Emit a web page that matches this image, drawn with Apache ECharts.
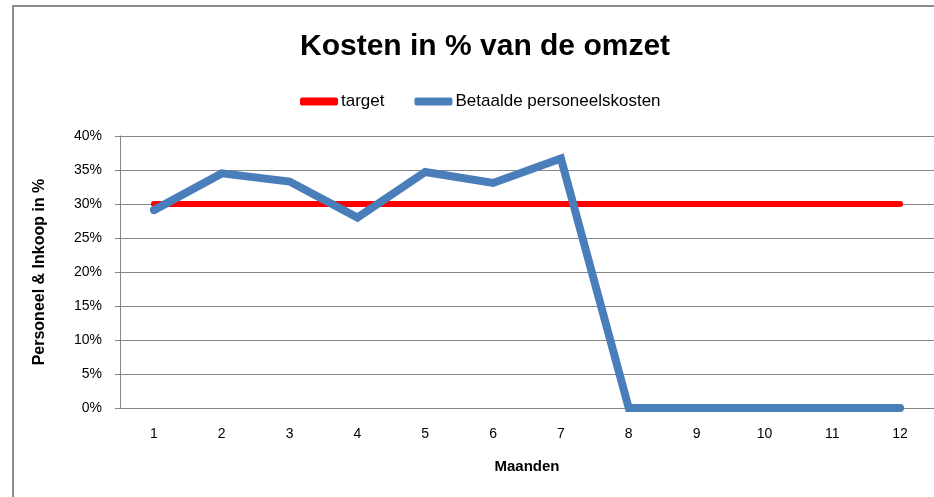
<!DOCTYPE html>
<html>
<head>
<meta charset="utf-8">
<script src="https://cdn.jsdelivr.net/npm/echarts@6/dist/echarts.min.js"></script>
<style>
  html, body { margin: 0; padding: 0; background: #fff; }
  #chart { width: 934px; height: 497px; }
</style>
</head>
<body>
<div id="chart"></div>
<script>
// maanden en percentages
const months = ['1', '2', '3', '4', '5', '6', '7', '8', '9', '10', '11', '12'];
const target = [30, 30, 30, 30, 30, 30, 30, 30, 30, 30, 30, 30];
const personeel = [29.1, 34.5, 33.3, 28.0, 34.7, 33.1, 36.7, 0, 0, 0, 0, 0];

const font = 'Liberation Sans, Arial, sans-serif';
const myChart = echarts.init(document.getElementById('chart'));

const option = {
  animation: false,
  backgroundColor: '#fff',
  title: {
    text: 'Kosten in % van de omzet',
    left: 295,
    top: 27,
    textStyle: { fontFamily: font, fontSize: 30, fontWeight: 'bold', color: '#000' },
  },
  legend: {
    top: 88,
    left: 295,
    itemWidth: 38,
    itemHeight: 8,
    itemGap: 30,
    textStyle: { fontFamily: font, fontSize: 17, color: '#000', padding: [0, 0, 0, -2] },
    data: [
      { name: 'target', icon: 'roundRect' },
      { name: 'Betaalde personeelskosten', icon: 'roundRect' },
    ],
  },
  grid: {
    left: 120,
    right: 0,
    top: 136,
    bottom: 89,
  },
  xAxis: {
    type: 'category',
    data: months,
    boundaryGap: true,
    name: 'Maanden',
    nameLocation: 'middle',
    nameGap: 51,
    nameTextStyle: { fontFamily: font, fontSize: 15, fontWeight: 'bold', color: '#000' },
    axisLine: { lineStyle: { color: '#868686', width: 1 } },
    axisTick: { show: false },
    axisLabel: { fontFamily: font, fontSize: 14, color: '#000', margin: 19 },
  },
  yAxis: {
    type: 'value',
    min: 0,
    max: 40,
    interval: 5,
    name: 'Personeel & Inkoop in %',
    nameLocation: 'middle',
    nameGap: 72,
    nameTextStyle: { fontFamily: font, fontSize: 16, fontWeight: 'bold', color: '#000' },
    axisLine: { show: true, lineStyle: { color: '#868686', width: 1 } },
    axisTick: { show: true, length: 5, lineStyle: { color: '#868686' } },
    axisLabel: { fontFamily: font, fontSize: 14, color: '#000', margin: 18, formatter: '{value}%' },
    splitLine: { lineStyle: { color: '#868686', width: 1 } },
  },
  graphic: [{
    type: 'rect',
    shape: { x: 13, y: 6, width: 1000, height: 1000 },
    style: { fill: 'none', stroke: '#8c8c8c', lineWidth: 2 },
    silent: true,
  }],
  series: [
    {
      name: 'target',
      type: 'line',
      data: target,
      symbol: 'none',
      color: '#ff0000',
      lineStyle: { width: 6, color: '#ff0000', cap: 'round' },
    },
    {
      name: 'Betaalde personeelskosten',
      type: 'line',
      data: personeel,
      symbol: 'none',
      color: '#4a7ebb',
      lineStyle: { width: 8, color: '#4a7ebb', cap: 'round', join: 'miter' },
    },
  ],
};

myChart.setOption(option);
</script>
</body>
</html>
